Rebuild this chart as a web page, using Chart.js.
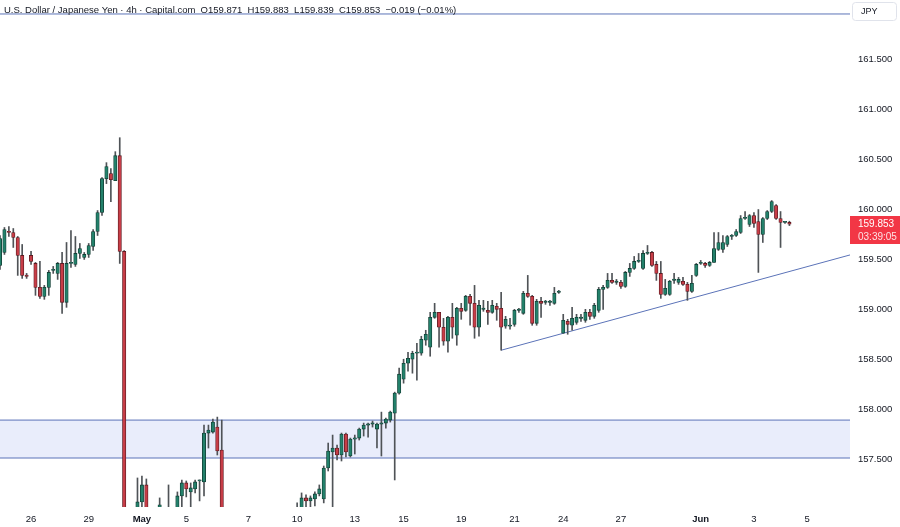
<!DOCTYPE html>
<html>
<head>
<meta charset="utf-8">
<script src="https://cdn.jsdelivr.net/npm/chart.js@4.4.1/dist/chart.umd.min.js"></script>
<style>
  html, body { margin: 0; padding: 0; background: #fff; }
  #wrap { width: 900px; height: 527px; }
</style>
</head>
<body>
<div id="wrap"><canvas id="candles" width="900" height="527"></canvas></div>
<script>
// USD/JPY 4h candles (index = bar number)
let opens = [
  159.44, 159.57, 159.78, 159.77, 159.72, 159.54, 159.34, 159.54, 159.46, 159.22,
  159.13, 159.22, 159.39, 159.36, 159.46, 159.07, 159.46, 159.45, 159.56, 159.52,
  159.55, 159.63, 159.78, 159.97, 160.31, 160.36, 160.29, 160.54, 159.58, 156.40,
  156.60, 156.98, 157.07, 157.24, 156.85, 156.70, 156.99, 156.98, 156.90, 156.95,
  156.98, 157.13, 157.26, 157.17, 157.20, 157.28, 157.27, 157.76, 157.77, 157.82,
  157.59, 156.80, 156.50, 156.60, 156.70, 156.45, 156.30, 156.40, 156.55, 156.50,
  156.60, 156.70, 156.65, 156.75, 156.70, 156.80, 156.85, 156.90, 156.95, 157.11,
  157.08, 157.10, 157.15, 157.10, 157.41, 157.57, 157.61, 157.54, 157.75, 157.53,
  157.70, 157.71, 157.80, 157.84, 157.85, 157.80, 157.85, 157.86, 157.89, 157.96,
  158.16, 158.30, 158.46, 158.50, 158.56, 158.56, 158.69, 158.62, 158.92, 158.97,
  158.82, 158.68, 158.92, 158.74, 159.01, 158.99, 159.13, 159.06, 158.82, 159.00,
  158.99, 158.97, 159.03, 159.01, 158.83, 158.83, 158.85, 158.99, 158.96, 159.16,
  159.13, 158.86, 159.08, 159.07, 159.07, 159.06, 159.17, 158.76, 158.88, 158.84,
  158.87, 158.91, 158.89, 158.97, 158.93, 158.99, 159.20, 159.22, 159.29, 159.27,
  159.27, 159.23, 159.37, 159.41, 159.48, 159.41, 159.56, 159.57, 159.45, 159.36,
  159.15, 159.15, 159.29, 159.27, 159.28, 159.25, 159.18, 159.34, 159.46, 159.46,
  159.44, 159.47, 159.60, 159.60, 159.65, 159.73, 159.74, 159.77, 159.91, 159.85,
  159.94, 159.88, 159.75, 159.91, 159.98, 160.04, 159.91, 159.87, 159.871
];
let highs = [
  159.74, 159.82, 159.83, 159.81, 159.73, 159.65, 159.36, 159.58, 159.47, 159.48,
  159.24, 159.39, 159.43, 159.47, 159.57, 159.67, 159.79, 159.73, 159.66, 159.57,
  159.66, 159.80, 159.99, 160.32, 160.47, 160.41, 160.58, 160.72, 159.59, 156.80,
  157.00, 157.31, 157.33, 157.30, 156.95, 156.95, 157.11, 157.00, 157.24, 157.00,
  157.17, 157.29, 157.28, 157.26, 157.29, 157.29, 157.84, 157.84, 157.90, 157.92,
  157.89, 156.90, 156.70, 156.80, 156.85, 156.60, 156.50, 156.60, 156.70, 156.65,
  156.80, 156.85, 156.80, 156.90, 156.85, 156.92, 156.95, 157.06, 157.16, 157.14,
  157.13, 157.17, 157.24, 157.43, 157.66, 157.74, 157.64, 157.76, 157.76, 157.71,
  157.74, 157.81, 157.86, 157.86, 157.88, 157.86, 157.97, 157.91, 157.98, 158.17,
  158.41, 158.50, 158.57, 158.58, 158.66, 158.73, 158.79, 158.97, 159.06, 158.97,
  158.91, 158.93, 159.06, 159.02, 159.06, 159.14, 159.15, 159.24, 159.09, 159.09,
  159.08, 159.09, 159.06, 159.17, 158.93, 158.91, 159.00, 159.01, 159.18, 159.34,
  159.14, 159.10, 159.12, 159.09, 159.09, 159.22, 159.19, 158.95, 158.90, 159.02,
  158.95, 158.95, 159.00, 159.00, 159.06, 159.22, 159.24, 159.36, 159.36, 159.30,
  159.29, 159.38, 159.46, 159.53, 159.56, 159.59, 159.64, 159.58, 159.48, 159.48,
  159.30, 159.29, 159.36, 159.32, 159.32, 159.27, 159.34, 159.46, 159.49, 159.47,
  159.48, 159.77, 159.77, 159.74, 159.74, 159.75, 159.80, 159.94, 159.98, 159.95,
  159.97, 160.00, 159.92, 159.99, 160.09, 160.05, 159.98, 159.88, 159.883
];
let lows = [
  159.40, 159.55, 159.73, 159.62, 159.34, 159.31, 159.31, 159.45, 159.14, 159.11,
  159.10, 159.14, 159.36, 159.30, 158.96, 159.02, 159.42, 159.43, 159.51, 159.50,
  159.52, 159.59, 159.74, 159.94, 160.26, 160.08, 160.29, 159.46, 156.20, 156.30,
  156.50, 156.90, 156.98, 156.80, 156.60, 156.55, 156.95, 156.85, 156.85, 156.88,
  156.95, 156.98, 157.12, 157.00, 157.16, 157.08, 157.13, 157.61, 157.76, 157.54,
  156.60, 156.40, 156.30, 156.50, 156.40, 156.20, 156.10, 156.30, 156.40, 156.35,
  156.50, 156.55, 156.50, 156.60, 156.60, 156.70, 156.75, 156.80, 156.90, 157.00,
  157.02, 157.03, 157.13, 157.06, 157.38, 157.02, 157.49, 157.48, 157.52, 157.52,
  157.55, 157.69, 157.73, 157.72, 157.82, 157.61, 157.53, 157.81, 157.87, 157.29,
  158.15, 158.26, 158.38, 158.36, 158.29, 158.54, 158.64, 158.53, 158.91, 158.62,
  158.64, 158.57, 158.71, 158.64, 158.90, 158.98, 158.84, 158.71, 158.73, 158.98,
  158.85, 158.96, 158.89, 158.59, 158.81, 158.80, 158.83, 158.97, 158.95, 159.12,
  158.84, 158.84, 158.92, 159.05, 159.04, 159.05, 159.16, 158.76, 158.75, 158.79,
  158.85, 158.88, 158.87, 158.90, 158.91, 158.97, 159.00, 159.21, 159.26, 159.25,
  159.21, 159.22, 159.33, 159.40, 159.47, 159.40, 159.55, 159.43, 159.29, 159.11,
  159.14, 159.14, 159.26, 159.25, 159.24, 159.09, 159.17, 159.33, 159.45, 159.42,
  159.43, 159.47, 159.59, 159.57, 159.63, 159.70, 159.73, 159.76, 159.90, 159.83,
  159.82, 159.37, 159.67, 159.90, 159.97, 159.90, 159.62, 159.86, 159.839
];
let closes = [
  159.71, 159.80, 159.77, 159.72, 159.54, 159.34, 159.33, 159.48, 159.22, 159.13,
  159.22, 159.37, 159.40, 159.46, 159.07, 159.46, 159.47, 159.56, 159.61, 159.55,
  159.64, 159.78, 159.97, 160.31, 160.43, 160.30, 160.54, 159.58, 156.40, 156.60,
  156.90, 157.07, 157.24, 156.85, 156.70, 156.80, 157.04, 156.90, 156.95, 156.98,
  157.13, 157.26, 157.20, 157.21, 157.27, 157.28, 157.76, 157.79, 157.87, 157.58,
  156.80, 156.50, 156.60, 156.70, 156.45, 156.30, 156.40, 156.55, 156.50, 156.60,
  156.70, 156.65, 156.75, 156.70, 156.80, 156.85, 156.90, 156.95, 157.11, 157.08,
  157.11, 157.15, 157.20, 157.41, 157.58, 157.61, 157.54, 157.75, 157.57, 157.70,
  157.71, 157.80, 157.84, 157.85, 157.86, 157.85, 157.86, 157.90, 157.97, 158.16,
  158.35, 158.46, 158.51, 158.56, 158.57, 158.70, 158.75, 158.92, 158.97, 158.82,
  158.68, 158.92, 158.82, 159.01, 158.98, 159.13, 159.06, 158.82, 159.04, 159.01,
  158.97, 159.04, 159.00, 158.82, 158.90, 158.84, 158.99, 159.00, 159.16, 159.13,
  158.86, 159.08, 159.06, 159.07, 159.07, 159.16, 159.18, 158.89, 158.85, 158.91,
  158.92, 158.92, 158.97, 158.93, 159.04, 159.20, 159.22, 159.29, 159.27, 159.27,
  159.23, 159.37, 159.41, 159.48, 159.49, 159.56, 159.57, 159.44, 159.36, 159.15,
  159.21, 159.28, 159.29, 159.30, 159.25, 159.18, 159.26, 159.45, 159.46, 159.44,
  159.47, 159.61, 159.67, 159.67, 159.73, 159.73, 159.78, 159.91, 159.91, 159.94,
  159.86, 159.75, 159.91, 159.98, 160.08, 159.91, 159.87, 159.87, 159.853
];

// date labels on the time axis (bar index -> text)
let tickIdx = [7, 20, 32, 42, 56, 67, 80, 91, 104, 116, 127, 140, 158, 170, 182];
let tickText = ['26', '29', 'May', '5', '7', '10', '13', '15', '19', '21', '24', '27', 'Jun', '3', '5'];
let priceTicks = [157.5, 158, 158.5, 159, 159.5, 160, 160.5, 161, 161.5];

// drawings
let levelLine = 161.96;
let zoneHigh = 157.89;
let zoneLow = 157.51;
let trendIdx = [113, 191.66];
let trendVal = [158.59, 159.545];

let xMin = 0, xMax = 191.66;
let yMin = 157.019, yMax = 162.10;

let upFill = '#23816b', upLine = '#123f35';
let downFill = '#c73d47', downLine = '#5e1a21';
let wickColor = '#4f5357';
let drawBlue = '#5b73b8';

let bodies = [], wicks = [], fills = [], borders = [];
for (let i = 0; i < opens.length; i++) {
    let up = closes[i] >= opens[i];
    bodies.push({ x: i, y: [Math.min(opens[i], closes[i]), Math.max(opens[i], closes[i])] });
    wicks.push({ x: i, y: [lows[i], highs[i]] });
    fills.push(up ? upFill : downFill);
    borders.push(up ? upLine : downLine);
}

function noPad(scale) {
    scale.paddingTop = 0;
    scale.paddingBottom = 0;
    scale.paddingLeft = 0;
    scale.paddingRight = 0;
}

let overlay = {
    id: 'overlay',
    afterDraw: function (chart) {
        let c = chart.ctx;
        let ys = chart.scales.y;
        c.save();
        // header
        c.font = '9.5px "Liberation Sans", Arial, sans-serif';
        c.fillStyle = '#131722';
        c.textBaseline = 'middle';
        c.textAlign = 'left';
        c.fillText('U.S. Dollar / Japanese Yen \u00b7 4h \u00b7 Capital.com  O159.871  H159.883  L159.839  C159.853  \u22120.019 (\u22120.01%)', 4, 10);

        // currency box
        c.fillStyle = '#fff';
        c.strokeStyle = '#e0e3eb';
        c.lineWidth = 1;
        c.beginPath();
        c.roundRect(852.5, 2.5, 44, 18, 3);
        c.fill();
        c.stroke();
        c.fillStyle = '#131722';
        c.font = '9px "Liberation Sans", Arial, sans-serif';
        c.fillText('JPY', 861, 11.5);

        // last price label
        let last = closes[closes.length - 1];
        let py = ys.getPixelForValue(last);
        c.fillStyle = '#f23645';
        c.fillRect(850, Math.round(py) - 8, 50, 28);
        c.fillStyle = '#fff';
        c.font = '10px "Liberation Sans", Arial, sans-serif';
        c.fillText(last.toFixed(3), 858, py);
        c.fillStyle = 'rgba(255,255,255,0.85)';
        c.fillText('03:39:05', 858, py + 13);
        c.restore();
    }
};

let ctx = document.getElementById('candles').getContext('2d');
let chart = new Chart(ctx, {
    type: 'bar',
    data: {
        datasets: [
            {
                data: bodies,
                backgroundColor: fills,
                borderColor: borders,
                borderWidth: 0.8,
                borderSkipped: false,
                barThickness: 3.4,
                minBarLength: 1.2,
                grouped: false,
                clip: 0,
                order: 0
            },
            {
                data: wicks,
                backgroundColor: wickColor,
                borderWidth: 0,
                barThickness: 1,
                grouped: false,
                clip: 0,
                order: 1
            },
            {
                type: 'line',
                data: trendIdx.map(function (v, i) { return { x: v, y: trendVal[i] }; }),
                borderColor: drawBlue,
                borderWidth: 1,
                pointRadius: 0,
                fill: false,
                clip: 0,
                order: 2
            },
            {
                type: 'line',
                data: [{ x: xMin, y: levelLine }, { x: xMax, y: levelLine }],
                borderColor: drawBlue,
                borderWidth: 1,
                pointRadius: 0,
                fill: false,
                order: 3
            },
            {
                type: 'line',
                data: [{ x: xMin, y: zoneHigh }, { x: xMax, y: zoneHigh }],
                borderColor: drawBlue,
                borderWidth: 1,
                pointRadius: 0,
                fill: false,
                order: 4
            },
            {
                type: 'line',
                data: [{ x: xMin, y: zoneLow }, { x: xMax, y: zoneLow }],
                borderColor: drawBlue,
                borderWidth: 1,
                pointRadius: 0,
                backgroundColor: '#e9edfb',
                fill: { value: zoneHigh },
                order: 5
            }
        ]
    },
    options: {
        responsive: false,
        animation: false,
        events: [],
        layout: { padding: 0 },
        plugins: {
            legend: { display: false },
            tooltip: { enabled: false }
        },
        scales: {
            x: {
                type: 'linear',
                min: xMin,
                max: xMax,
                offset: false,
                grid: { display: false, drawTicks: false },
                border: { display: false },
                afterBuildTicks: function (scale) {
                    scale.ticks = tickIdx.map(function (v) { return { value: v }; });
                },
                afterFit: function (scale) { scale.height = 20; noPad(scale); },
                ticks: {
                    autoSkip: false,
                    maxRotation: 0,
                    padding: 7,
                    color: '#131722',
                    font: function (c) {
                        let t = tickText[tickIdx.indexOf(c.tick && c.tick.value)];
                        let bold = t === 'May' || t === 'Jun';
                        return { family: '"Liberation Sans", Arial, sans-serif', size: 9.5, weight: bold ? 'bold' : 'normal' };
                    },
                    callback: function (v) {
                        let k = tickIdx.indexOf(v);
                        return k >= 0 ? tickText[k] : '';
                    }
                }
            },
            y: {
                position: 'right',
                min: yMin,
                max: yMax,
                grid: { display: false, drawTicks: false },
                border: { display: false },
                afterBuildTicks: function (scale) {
                    scale.ticks = priceTicks.map(function (v) { return { value: v }; });
                },
                afterFit: function (scale) { scale.width = 50; noPad(scale); },
                ticks: {
                    padding: 8,
                    color: '#131722',
                    font: { family: '"Liberation Sans", Arial, sans-serif', size: 9.5 },
                    callback: function (v) { return Number(v).toFixed(3); }
                }
            }
        }
    },
    plugins: [overlay]
});
</script>
</body>
</html>
